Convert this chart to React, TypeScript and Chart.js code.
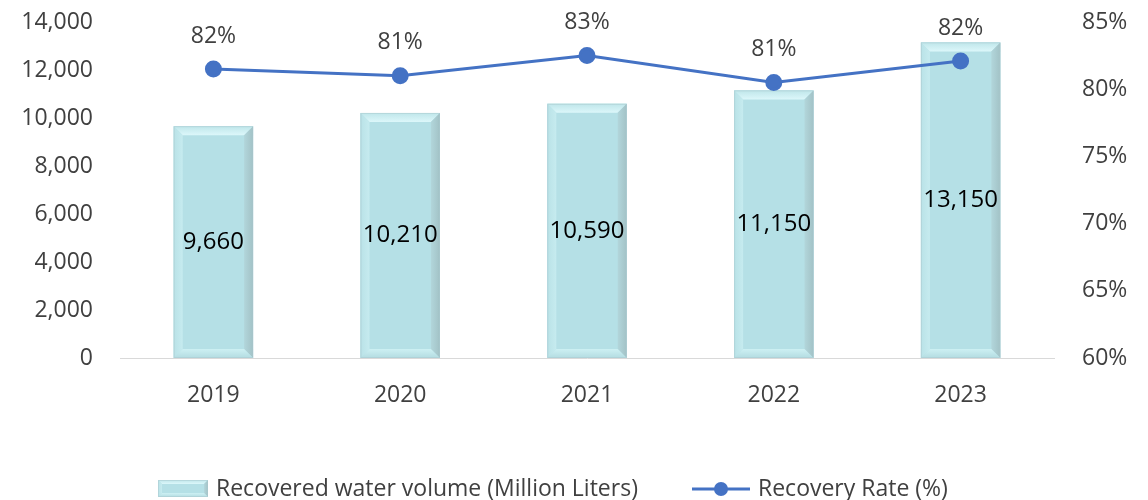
import React, { useEffect, useRef } from "react";
import { Chart, registerables } from "chart.js";

Chart.register(...registerables);

const years = ["2019", "2020", "2021", "2022", "2023"];
const volumes = [9660, 10210, 10590, 11150, 13150];
const rates = [81.5, 81.0, 82.5, 80.5, 82.1];
const leftTicks = [0, 2000, 4000, 6000, 8000, 10000, 12000, 14000];
const rightTicks = [60, 65, 70, 75, 80, 85];
const barLegend = "Recovered water volume (Million Liters)";
const lineLegend = "Recovery Rate (%)";

const FONT = "'Open Sans', Lato, sans-serif";
const TEXT = "#404040";
const LINE = "#4472c4";
const BAR = "#b5e0e6";

function drawBevel(ctx: CanvasRenderingContext2D, l: number, t: number, r: number, b: number, bv: number) {
  const poly = (pts: number[][], fill: string | CanvasGradient) => {
    ctx.beginPath();
    ctx.moveTo(pts[0][0], pts[0][1]);
    for (let i = 1; i < pts.length; i++) ctx.lineTo(pts[i][0], pts[i][1]);
    ctx.closePath();
    ctx.fillStyle = fill;
    ctx.fill();
  };
  ctx.fillStyle = BAR;
  ctx.fillRect(l, t, r - l, b - t);
  const gt = ctx.createLinearGradient(0, t, 0, t + bv);
  gt.addColorStop(0, "#bfe6ea");
  gt.addColorStop(1, "#dcf7fa");
  poly([[l, t], [r, t], [r - bv, t + bv], [l + bv, t + bv]], gt);
  const gl = ctx.createLinearGradient(l, 0, l + bv, 0);
  gl.addColorStop(0, "#b9e2e7");
  gl.addColorStop(1, "#c6ebef");
  poly([[l, t], [l + bv, t + bv], [l + bv, b - bv], [l, b]], gl);
  const gr = ctx.createLinearGradient(r - bv, 0, r, 0);
  gr.addColorStop(0, "#b2d6db");
  gr.addColorStop(1, "#a2c2c6");
  poly([[r, t], [r, b], [r - bv, b - bv], [r - bv, t + bv]], gr);
  const gb = ctx.createLinearGradient(0, b - bv, 0, b);
  gb.addColorStop(0, "#cdf0f3");
  gb.addColorStop(1, "#b3dce1");
  poly([[l, b], [r, b], [r - bv, b - bv], [l + bv, b - bv]], gb);
  ctx.strokeStyle = "rgba(170,200,205,0.5)";
  ctx.lineWidth = 1;
  ctx.strokeRect(l + 0.5, t + 0.5, r - l - 1, b - t - 1);
}

const customPlugin = {
  id: "custom",
  afterDatasetDraw(chart: any, args: any) {
    if (args.index !== 0) return;
    const ctx = chart.ctx;
    const meta = chart.getDatasetMeta(0);
    ctx.save();
    meta.data.forEach((el: any) => {
      const p = el.getProps(["x", "y", "base", "width"], true);
      drawBevel(ctx, p.x - p.width / 2, p.y, p.x + p.width / 2, p.base, 9);
    });
    ctx.restore();
  },
  afterDatasetsDraw(chart: any) {
    const ctx = chart.ctx;
    ctx.save();
    ctx.textAlign = "center";
    ctx.textBaseline = "middle";
    const bars = chart.getDatasetMeta(0).data;
    ctx.fillStyle = "#000000";
    ctx.font = `24px ${FONT}`;
    bars.forEach((el: any, i: number) => {
      const p = el.getProps(["x", "y", "base"], true);
      ctx.fillText(volumes[i].toLocaleString("en-US"), p.x, (p.y + p.base) / 2);
    });
    const pts = chart.getDatasetMeta(1).data;
    ctx.fillStyle = TEXT;
    ctx.font = `23px ${FONT}`;
    pts.forEach((el: any, i: number) => {
      ctx.fillText(Math.round(rates[i]) + "%", el.x, el.y - 33);
    });
    ctx.restore();
  },
  afterDraw(chart: any) {
    const ctx = chart.ctx;
    ctx.save();
    const cy = 489;
    drawBevel(ctx, 158, 480, 208, 497, 4);
    ctx.font = `23px ${FONT}`;
    ctx.fillStyle = TEXT;
    ctx.textAlign = "left";
    ctx.textBaseline = "middle";
    ctx.fillText(barLegend, 216, cy);
    ctx.strokeStyle = LINE;
    ctx.lineWidth = 3;
    ctx.beginPath();
    ctx.moveTo(692, cy);
    ctx.lineTo(750, cy);
    ctx.stroke();
    ctx.fillStyle = LINE;
    ctx.beginPath();
    ctx.arc(721, cy, 7, 0, Math.PI * 2);
    ctx.fill();
    ctx.fillStyle = TEXT;
    ctx.fillText(lineLegend, 758, cy);
    ctx.restore();
  },
};

export default function App() {
  const ref = useRef<HTMLCanvasElement>(null);
  useEffect(() => {
    document.body.style.margin = "0";
    const chart = new Chart(ref.current!, {
      type: "bar",
      data: {
        labels: years,
        datasets: [
          {
            type: "bar",
            label: barLegend,
            data: volumes,
            backgroundColor: BAR,
            yAxisID: "y",
            order: 1,
            barPercentage: 0.85,
            categoryPercentage: 0.5,
          },
          {
            type: "line",
            label: lineLegend,
            data: rates,
            borderColor: LINE,
            backgroundColor: LINE,
            borderWidth: 3,
            pointRadius: 7,
            pointHoverRadius: 7,
            pointBackgroundColor: LINE,
            pointBorderColor: LINE,
            yAxisID: "y1",
            order: 0,
            tension: 0,
          } as any,
        ],
      },
      options: {
        animation: false,
        responsive: false,
        devicePixelRatio: 1,
        layout: { padding: { top: 22, left: 0, right: 0, bottom: 0 } },
        plugins: { legend: { display: false }, tooltip: { enabled: false } },
        scales: {
          x: {
            grid: { display: false },
            border: { display: true, color: "#d9d9d9", width: 1 },
            ticks: { color: TEXT, font: { family: FONT, size: 23 }, padding: 16 },
            afterFit: (s: any) => { s.height = 142; },
          },
          y: {
            position: "left",
            min: 0,
            max: 14000,
            afterBuildTicks: (s: any) => { s.ticks = leftTicks.map((v) => ({ value: v })); },
            grid: { display: false },
            border: { display: false },
            ticks: {
              color: TEXT,
              font: { family: FONT, size: 23 },
              padding: 19,
              callback: (v: any) => Number(v).toLocaleString("en-US"),
            },
            afterFit: (s: any) => { s.width = 120; s.paddingTop = 0; s.paddingBottom = 0; },
          },
          y1: {
            position: "right",
            min: 60,
            max: 85,
            afterBuildTicks: (s: any) => { s.ticks = rightTicks.map((v) => ({ value: v })); },
            grid: { display: false },
            border: { display: false },
            ticks: {
              color: TEXT,
              font: { family: FONT, size: 23 },
              padding: 20,
              callback: (v: any) => v + "%",
            },
            afterFit: (s: any) => { s.width = 94; s.paddingTop = 0; s.paddingBottom = 0; },
          },
        },
      },
      plugins: [customPlugin],
    });
    return () => chart.destroy();
  }, []);
  return (
    <div style={{ width: 1148, height: 500 }}>
      <canvas ref={ref} width={1148} height={500} />
    </div>
  );
}
